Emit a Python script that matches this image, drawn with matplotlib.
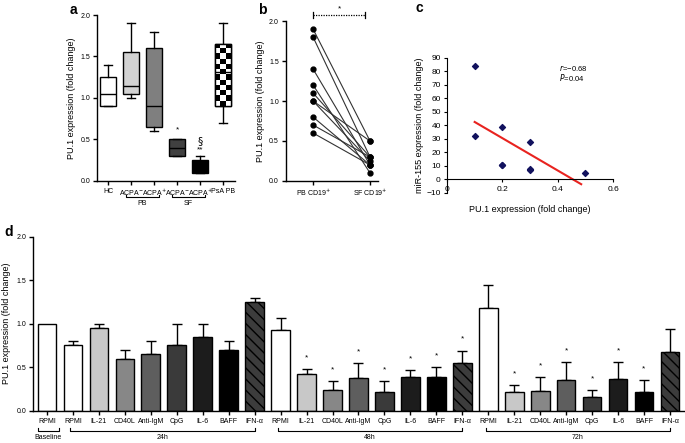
import numpy as np
import matplotlib
matplotlib.use("Agg")
import matplotlib.pyplot as plt

plt.rcParams['font.family'] = ['Liberation Sans', 'DejaVu Sans']
plt.rcParams['axes.linewidth'] = 1.0
plt.rcParams['xtick.major.width'] = 1.0
plt.rcParams['ytick.major.width'] = 1.0

# ---- panel a: box plots
a_labels = ['HC', 'ACPA$^{-}$', 'ACPA$^{+}$', 'ACPA$^{-}$', 'ACPA$^{+}$', 'PsA PB']
a_q1 = [0.90, 1.05, 0.65, 0.30, 0.10, 0.90]
a_med = [1.05, 1.15, 0.90, 0.40, 0.20, 1.31]
a_q3 = [1.25, 1.55, 1.60, 0.50, 0.25, 1.65]
a_lo = [0.90, 1.00, 0.60, 0.30, 0.10, 0.70]
a_hi = [1.40, 1.90, 1.80, 0.50, 0.30, 1.90]
a_colors = ['white', '#d2d2d2', '#7f7f7f', '#404040', 'black', 'white']

# ---- panel b: paired PB vs SF
b_pb = [1.9, 1.8, 1.4, 1.2, 1.1, 1.0, 1.0, 0.8, 0.7, 0.6]
b_sf = [0.5, 0.3, 0.2, 0.1, 0.3, 0.5, 0.25, 0.2, 0.3, 0.2]
b_labels = ['PB CD19$^{+}$', 'SF CD19$^{+}$']

# ---- panel c: correlation
c_x = [0.1, 0.1, 0.2, 0.2, 0.2, 0.3, 0.3, 0.3, 0.5]
c_y = [84, 32, 39, 11, 11, 28, 8, 7, 5]
c_fit_x = [0.1, 0.485]
c_fit_y = [42.5, -3.5]

# ---- panel d: stimulation bars
d_labels = ['RPMI', 'IL-21', 'CD40L', 'Anti-IgM', 'CpG', 'IL-6', 'BAFF', 'IFN-\u03b1']
d_colors = ['white', '#c8c8c8', '#878787', '#5e5e5e', '#3a3a3a', '#1c1c1c', 'black', '#3c3c3c']
base_mean = 1.0
mean_24 = [0.75, 0.95, 0.60, 0.65, 0.75, 0.85, 0.70, 1.25]
err_24 = [0.05, 0.05, 0.10, 0.15, 0.25, 0.15, 0.10, 0.05]
mean_48 = [0.93, 0.42, 0.24, 0.38, 0.21, 0.385, 0.385, 0.545]
err_48 = [0.13, 0.06, 0.10, 0.165, 0.13, 0.085, 0.12, 0.145]
mean_72 = [1.18, 0.21, 0.23, 0.35, 0.155, 0.37, 0.22, 0.68]
err_72 = [0.26, 0.08, 0.16, 0.21, 0.085, 0.19, 0.13, 0.255]
star_48 = [0, 1, 1, 1, 1, 1, 1, 1]
star_72 = [0, 1, 1, 1, 1, 1, 1, 0]

fig = plt.figure(figsize=(6.85, 4.43), dpi=100)
W, H = 685.0, 443.0

def add_ax(x0, x1, y_top, y_bot):
    return fig.add_axes([x0 / W, 1 - y_bot / H, (x1 - x0) / W, (y_bot - y_top) / H])

def style(ax, fs=5):
    for s in ['top', 'right']:
        ax.spines[s].set_visible(False)
    ax.tick_params(labelsize=fs, length=3, direction='out', pad=2)

# ================= a
ax = add_ax(97, 235, 15, 181)
style(ax)
stats = []
for i in range(len(a_labels)):
    stats.append(dict(med=a_med[i], q1=a_q1[i], q3=a_q3[i], whislo=a_lo[i], whishi=a_hi[i], fliers=[]))
pos = np.arange(1, len(a_labels) + 1)
bp = ax.bxp(stats, positions=pos, widths=0.68, patch_artist=True, showfliers=False, capwidths=0.34,
            boxprops=dict(linewidth=1.0, edgecolor='black'),
            medianprops=dict(color='black', linewidth=1.0, zorder=5),
            whiskerprops=dict(linewidth=1.0), capprops=dict(linewidth=1.0))
for patch, c in zip(bp['boxes'], a_colors):
    patch.set_facecolor(c)
# checkerboard for PsA PB
box = bp['boxes'][5]
checker = (np.indices((12, 3)).sum(axis=0) % 2).astype(float)
im = ax.imshow(checker, cmap='gray', interpolation='nearest', aspect='auto',
               extent=[pos[5] - 0.34, pos[5] + 0.34, a_q1[5], a_q3[5]], zorder=2.5)
im.set_clip_path(box)
ax.add_patch(plt.Rectangle((pos[5] - 0.34, a_q1[5]), 0.68, a_q3[5] - a_q1[5], fill=False,
                           edgecolor='black', linewidth=1.0, zorder=4))
ax.set_xlim(0.52, 6.52)
ax.set_ylim(0, 2.0)
ax.set_yticks([0, 0.5, 1.0, 1.5, 2.0])
ax.set_yticklabels(['0.0', '0.5', '1.0', '1.5', '2.0'])
ax.set_xticks(pos)
ax.set_xticklabels(a_labels, fontsize=5)
ax.set_ylabel('PU.1 expression (fold change)', fontsize=6.5, labelpad=3)
ax.text(pos[3], a_q3[3] + 0.12, '*', ha='center', va='center', fontsize=6)
ax.text(pos[4], a_hi[4] + 0.07, '**', ha='center', va='center', fontsize=6)
ax.text(pos[4], a_hi[4] + 0.18, '\u00a7', ha='center', va='center', fontsize=7.5,
        family=['DejaVu Sans'])
for (g0, g1, name) in [(1, 2, 'PB'), (3, 4, 'SF')]:
    xa, xb = pos[g0] - 0.2, pos[g1] + 0.2
    ax.plot([xa, xa, xb, xb], [-0.17, -0.19, -0.19, -0.17], color='black', lw=0.8, clip_on=False)
    ax.text((xa + xb) / 2, -0.23, name, ha='center', va='top', fontsize=5)
fig.text(70 / W, 1 - 10 / H, 'a', fontsize=10, fontweight='bold', va='center')

# ================= b
ax = add_ax(285.7, 378, 21, 181)
style(ax)
for p, s in zip(b_pb, b_sf):
    ax.plot([0, 1], [p, s], color='#333333', lw=0.8, marker='o', ms=3.5, mfc='black', mec='black')
ax.set_xlim(-0.48, 1.14)
ax.set_ylim(0, 2.0)
ax.set_yticks([0, 0.5, 1.0, 1.5, 2.0])
ax.set_yticklabels(['0.0', '0.5', '1.0', '1.5', '2.0'])
ax.set_xticks([0, 1])
ax.set_xticklabels(b_labels, fontsize=5)
ax.set_ylabel('PU.1 expression (fold change)', fontsize=6.5, labelpad=3)
ax.plot([0, 0.92], [2.075, 2.075], color='black', lw=0.9, ls=(0, (1, 1)), clip_on=False)
ax.plot([0, 0], [2.04, 2.11], color='black', lw=0.9, clip_on=False)
ax.plot([0.92, 0.92], [2.04, 2.11], color='black', lw=0.9, clip_on=False)
ax.text(0.46, 2.15, '*', ha='center', va='center', fontsize=6)
fig.text(258 / W, 1 - 10 / H, 'b', fontsize=10, fontweight='bold', va='center')

# ================= c
ax = add_ax(447, 613, 57.7, 193)
for s in ['top', 'right']:
    ax.spines[s].set_visible(False)
ax.spines['bottom'].set_position(('data', 0))
ax.spines['left'].set_linewidth(0.8)
ax.spines['bottom'].set_linewidth(0.8)
ax.tick_params(labelsize=6, length=2.5, width=0.8, direction='out', pad=2)
ax.scatter(c_x, c_y, marker='D', s=9, color='#12125e', zorder=3)
ax.plot(c_fit_x, c_fit_y, color='#e8231f', lw=1.5, zorder=2)
ax.set_xlim(0, 0.6)
ax.set_ylim(-10, 90)
ax.set_yticks(np.arange(-10, 91, 10))
ax.set_xticks([0, 0.2, 0.4, 0.6])
ax.set_xticklabels(['0', '0.2', '0.4', '0.6'])
ax.set_ylabel('miR-155 expression (fold change)', fontsize=6.5, labelpad=2)
ax.set_xlabel('PU.1 expression (fold change)', fontsize=6.5)
ax.xaxis.set_label_coords(0.5, -0.09)
ax.text(0.405, 82.5, '$r$=\u22120.68', fontsize=5.5, va='center')
ax.text(0.405, 75.0, '$P$=0.04', fontsize=5.5, va='center')
fig.text(416 / W, 1 - 8 / H, 'c', fontsize=10, fontweight='bold', va='center')

# ================= d
ax = add_ax(33, 685, 236.7, 410.7)
style(ax)
means = [base_mean] + mean_24 + mean_48 + mean_72
errs = [0.0] + err_24 + err_48 + err_72
colors = [d_colors[0]] + d_colors * 3
labels = [d_labels[0]] + d_labels * 3
stars = [0] + [0] * 8 + star_48 + star_72
x = np.arange(len(means))
for i in range(len(means)):
    hatch = '\\\\\\' if labels[i] == 'IFN-\u03b1' else None
    ax.bar(x[i], means[i], width=0.72, color=colors[i], edgecolor='black', linewidth=1.0,
           hatch=hatch, zorder=2)
    if errs[i] > 0:
        ax.errorbar(x[i], means[i], yerr=[[0], [errs[i]]], fmt='none', ecolor='black',
                    elinewidth=1.0, capsize=3.5, capthick=1.0, zorder=1)
    if stars[i]:
        ax.text(x[i], means[i] + errs[i] + 0.13, '*', ha='center', va='center', fontsize=6)
ax.set_xlim(-0.54, 24.58)
ax.set_ylim(0, 2.0)
ax.set_yticks([0, 0.5, 1.0, 1.5, 2.0])
ax.set_yticklabels(['0.0', '0.5', '1.0', '1.5', '2.0'])
ax.set_xticks(x)
ax.set_xticklabels(labels, fontsize=5)
ax.set_ylabel('PU.1 expression (fold change)', fontsize=6.5, labelpad=4)
groups = [(0, 0, 'Baseline'), (1, 8, '24h'), (9, 16, '48h'), (17, 24, '72h')]
for g0, g1, name in groups:
    xa, xb = (g0 - 0.35, g1 + 0.45) if g0 == g1 else (g0 - 0.1, g1 + 0.0)
    ax.plot([xa, xa, xb, xb], [-0.2, -0.235, -0.235, -0.2], color='black', lw=0.8, clip_on=False)
    ax.text((xa + xb) / 2, -0.27, name, ha='center', va='top', fontsize=5)
fig.text(4 / W, 1 - 232 / H, 'd', fontsize=10, fontweight='bold', va='center')

fig.savefig('out.png', dpi=100)
